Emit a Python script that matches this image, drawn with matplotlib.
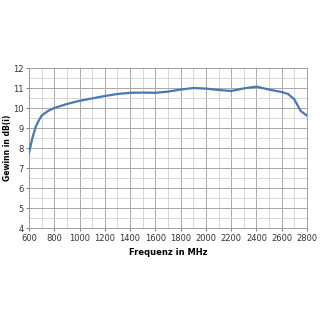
import matplotlib
matplotlib.use("Agg")
import matplotlib.pyplot as plt
from matplotlib.ticker import MultipleLocator

freq = [600, 625, 650, 675, 700, 750, 800, 900, 1000, 1100, 1200, 1300, 1400, 1500, 1600,
        1700, 1800, 1900, 2000, 2100, 2200, 2300, 2400, 2500, 2600, 2650, 2700, 2750, 2800]
gain = [7.75, 8.45, 9.0, 9.35, 9.62, 9.85, 10.0, 10.2, 10.36, 10.48, 10.6, 10.7, 10.76, 10.77, 10.76,
        10.82, 10.92, 11.0, 10.97, 10.9, 10.85, 10.98, 11.07, 10.92, 10.8, 10.7, 10.43, 9.85, 9.62]

fig = plt.figure(figsize=(3.2, 3.2), dpi=100)
ax = fig.add_axes([0.0906, 0.2875, 0.8688, 0.5])

ax.plot(freq, gain, color="#4a78b0", lw=1.6, zorder=3)

ax.set_xlim(600, 2800)
ax.set_ylim(4, 12)
ax.xaxis.set_major_locator(MultipleLocator(200))
ax.xaxis.set_minor_locator(MultipleLocator(100))
ax.yaxis.set_major_locator(MultipleLocator(1))
ax.yaxis.set_minor_locator(MultipleLocator(0.5))
ax.grid(which="major", color="#a8a8a8", lw=0.7)
ax.grid(which="minor", color="#d0d0d0", lw=0.6)
ax.tick_params(which="both", length=0, labelsize=6, colors="#333333", pad=2)
ax.tick_params(which="major", length=2, color="#888888")
for s in ax.spines.values():
    s.set_color("#a0a0a0")
    s.set_linewidth(0.7)

ax.set_xlabel("Frequenz in MHz", fontsize=6, fontweight="bold")
ax.xaxis.set_label_coords(0.5, -0.125)
ax.set_ylabel("Gewinn in dB(i)", fontsize=5.5, fontweight="bold")
ax.yaxis.set_label_coords(-0.06, 0.5)

fig.savefig("out.png", dpi=100, facecolor="white")
